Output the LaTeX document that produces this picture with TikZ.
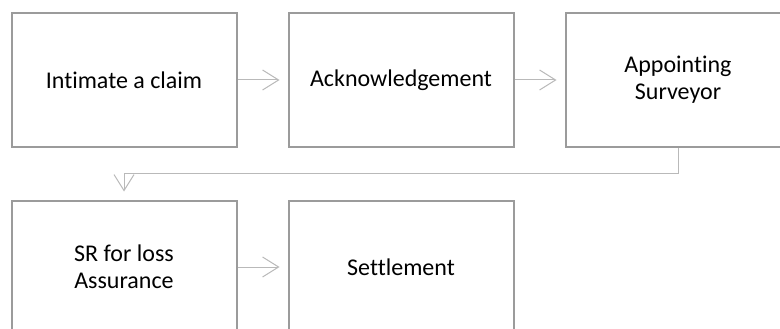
\documentclass[tikz,border=0pt]{standalone}
\usepackage{fontspec}
\setmainfont{Carlito}[Ligatures=NoCommon]
\usetikzlibrary{arrows.meta,positioning}
\definecolor{boxgray}{RGB}{155,155,155}
\definecolor{linkgray}{RGB}{185,185,185}
\begin{document}
\begin{tikzpicture}
  [x=1pt,y=-1pt,
   every node/.style={rectangle,draw=boxgray,line width=2pt,minimum width=225pt,minimum height=133pt,
     align=center,inner sep=0pt,font=\fontsize{24}{27}\selectfont,text=black},
   link/.style={draw=linkgray,line width=1pt,shorten >=8pt,-{Straight Barb[length=16pt,width=20pt,line width=1pt]}}]
  \useasboundingbox (0,0) rectangle (780,329);
  \node (intimate) at (124,80)  {Intimate a claim};
  \node (ack) at (401,80)  {Acknowledgement};
  \node (surveyor) at (678,80)  {Appointing\\Surveyor};
  \node (sr) at (124,267)  {SR for loss\\Assurance};
  \node (settle) at (401,267)  {Settlement};

\coordinate (bend) at (678,173);

\path[link]
(intimate) edge (ack)
(ack) edge (surveyor)
(sr) edge (settle);
\draw[link] (surveyor.south) -- (bend) -| (sr.north);
\end{tikzpicture}
\end{document}
